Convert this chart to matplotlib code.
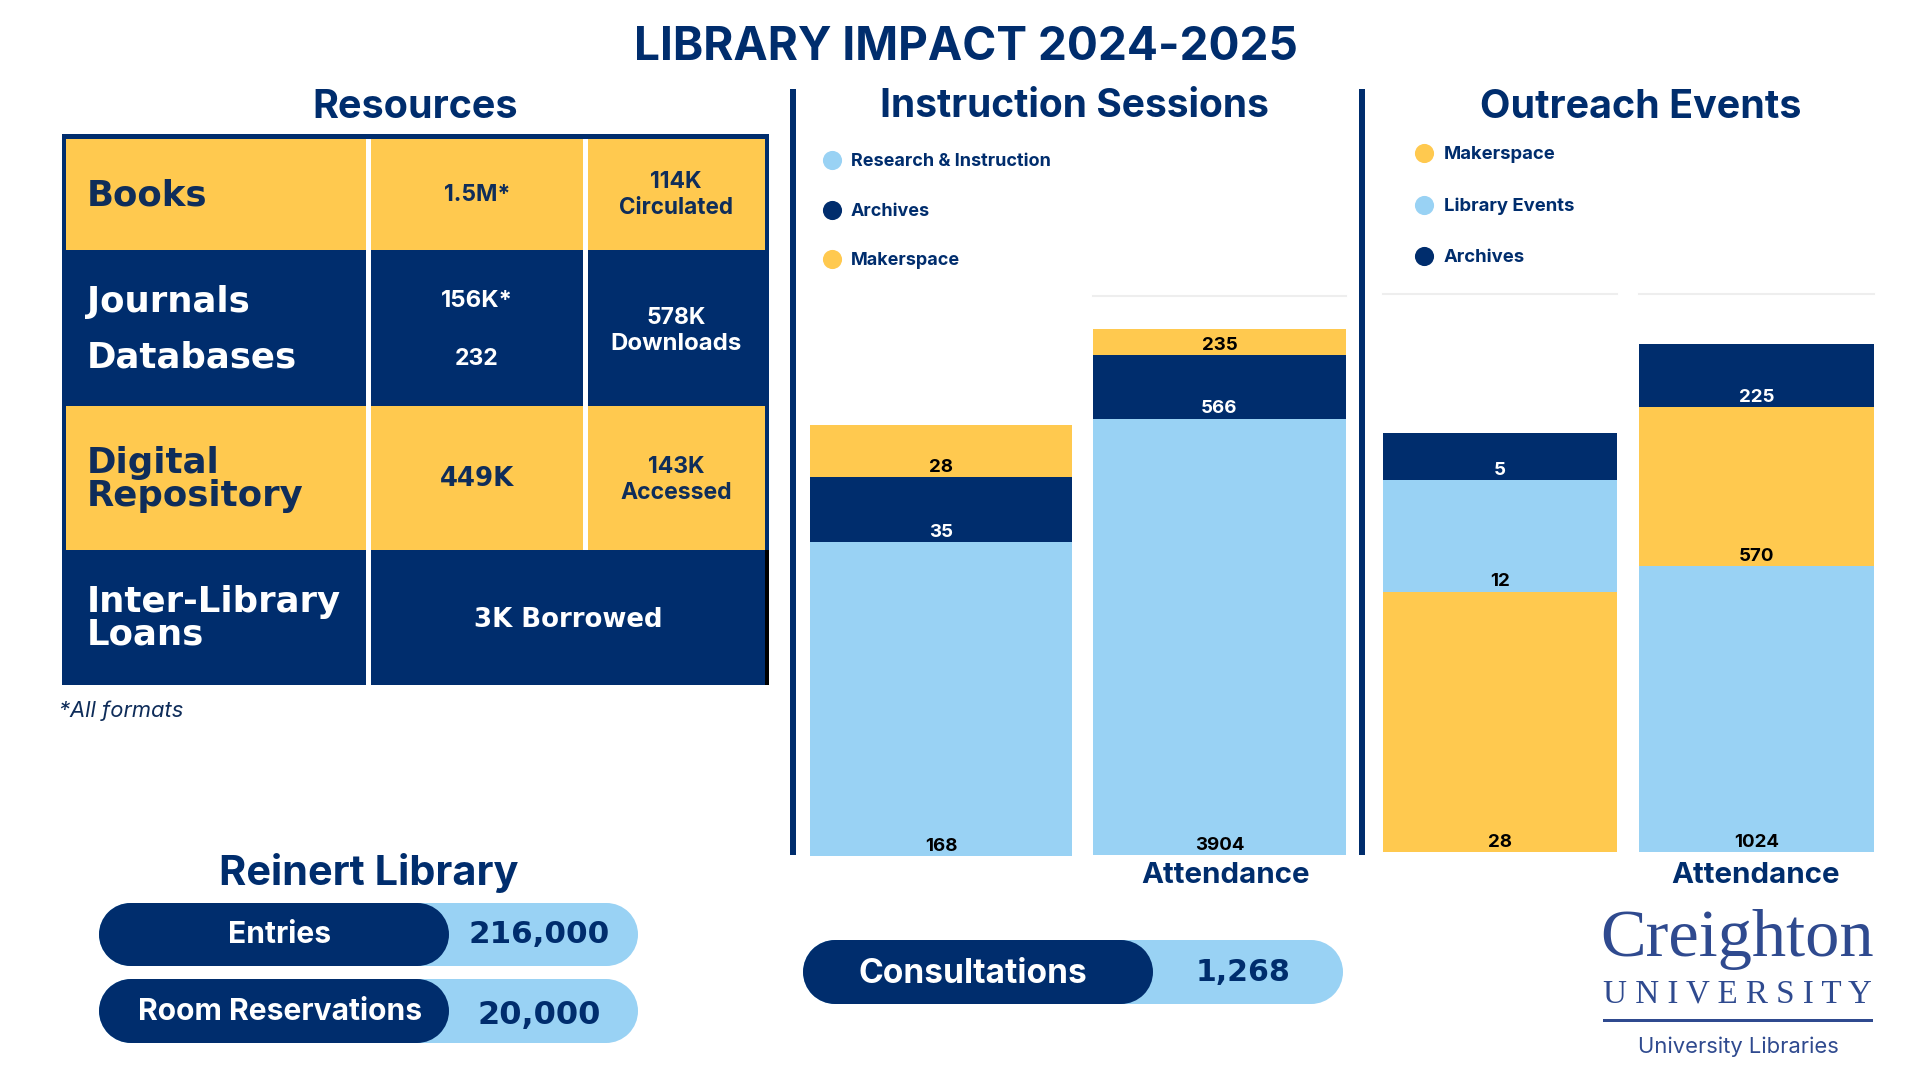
import matplotlib
matplotlib.use('Agg')
import matplotlib.pyplot as plt
from matplotlib.patches import Rectangle, Circle

# --- Data ---
session_labels = ['Research & Instruction', 'Archives', 'Makerspace']
sessions_count = [168, 35, 28]
sessions_attendance = [3904, 566, 235]

outreach_labels = ['Makerspace', 'Library Events', 'Archives']
outreach_count = [28, 12, 5]
outreach_attendance = [1024, 570, 225]

pill_labels = ['Entries', 'Room Reservations', 'Consultations']
pill_values = ['216,000', '20,000', '1,268']

NAVY = '#002D6D'
GOLD = '#FFC94F'
BLUE = '#99D2F4'
INK = '#0F2D5A'
LOGO = '#2F4A8F'
W, H = 1920, 1080

plt.rcParams['font.family'] = ['Inter', 'Lato', 'DejaVu Sans']

fig = plt.figure(figsize=(19.2, 10.8), dpi=100, facecolor='white')
bg = fig.add_axes([0, 0, 1, 1])
bg.set_xlim(0, W)
bg.set_ylim(H, 0)
bg.axis('off')


def label(x, y, s, px, color=NAVY, ha='center', weight='bold', **kw):
    # px is the font size in image pixels
    bg.text(x, y + px * 0.07, s, fontsize=px * 0.72, color=color, ha=ha, va='center',
            fontweight=weight, **kw)


def box(x0, y0, x1, y1, color):
    bg.add_patch(Rectangle((x0, y0), x1 - x0, y1 - y0, facecolor=color,
                           edgecolor='none'))


def stacked(x0, x1, y_top, y_bottom, values, colors, ymax, grid=True):
    ax = fig.add_axes([x0 / W, 1 - y_bottom / H, (x1 - x0) / W,
                       (y_bottom - y_top) / H])
    base = 0
    for v, c in zip(values, colors):
        ax.bar(0, v, bottom=base, width=1, color=c, linewidth=0)
        ax.annotate(str(v), (0, base), xytext=(0, 1), textcoords='offset points',
                    ha='center', va='bottom', fontsize=13.5, fontweight='bold',
                    color='white' if c == NAVY else 'black')
        base += v
    ax.set_xlim(-0.5, 0.5)
    ax.set_ylim(0, ymax)
    ax.axis('off')
    if grid:
        ax.axhline(ymax, color='#EEEEEE', linewidth=1.5, clip_on=False)
    return ax


def pill(x0, x_mid, x1, y0, y1):
    r = (y1 - y0) / 2
    for right, color in [(x1, BLUE), (x_mid, NAVY)]:
        box(x0 + r, y0, right - r, y1, color)
        bg.add_patch(Circle((x0 + r, y0 + r), r, facecolor=color, edgecolor='none'))
        bg.add_patch(Circle((right - r, y0 + r), r, facecolor=color, edgecolor='none'))


# --- Titles ---
label(966, 45, 'LIBRARY IMPACT 2024-2025', 46)
label(415, 105, 'Resources', 39.5)
label(1074, 104, 'Instruction Sessions', 39)
label(1641, 105, 'Outreach Events', 39.5)

# --- Resources table ---
box(62, 134, 769, 685, NAVY)
box(66, 139, 765, 250, GOLD)
box(66, 406, 765, 550, GOLD)
box(765, 550, 769, 685, 'black')
box(366, 139, 371, 685, 'white')
box(583, 139, 588, 550, 'white')

track = ['DejaVu Sans']
for y, s, c in [(193, 'Books', INK), (300, 'Journals', 'white'), (355, 'Databases', 'white'),
                (461, 'Digital', INK), (494, 'Repository', INK),
                (600, 'Inter-Library', 'white'), (632, 'Loans', 'white')]:
    label(87, y, s, 35.5, color=c, ha='left', family=track)

label(477, 193, '1.5M*', 23, color=INK)
label(676, 180, '114K', 23, color=INK)
label(676, 206, 'Circulated', 22.5, color=INK)
label(477, 299, '156K*', 24, color='white')
label(477, 357, '232', 23, color='white')
label(676, 316, '578K', 23, color='white')
label(676, 342, 'Downloads', 24, color='white')
label(477, 477, '449K', 26, color=INK, family=track)
label(676, 465, '143K', 23, color=INK)
label(676, 491, 'Accessed', 23, color=INK)
label(568, 618, '3K Borrowed', 26, color='white', family=track)
label(59, 709, '*All formats', 22, ha='left', weight='normal', style='italic', color=INK)

# --- Stacked bars ---
stacked(810, 1072, 296, 856, sessions_count, [BLUE, NAVY, GOLD], 300, grid=False)
stacked(1093, 1346, 296, 855, sessions_attendance, [BLUE, NAVY, GOLD], 5000)
stacked(1383, 1617, 294, 852, outreach_count, [GOLD, BLUE, NAVY], 60)
stacked(1639, 1874, 294, 852, outreach_attendance, [BLUE, GOLD, NAVY], 2000)

box(790, 89, 796, 855, NAVY)
box(1359, 89, 1365, 855, NAVY)

# --- Legends ---
for y, s, c in zip([160, 210, 259], session_labels, [BLUE, NAVY, GOLD]):
    bg.scatter(832, y, s=190, color=c, linewidth=0)
    label(851, y, s, 18, ha='left')
for y, s, c in zip([153, 205, 256], outreach_labels, [GOLD, BLUE, NAVY]):
    bg.scatter(1424, y, s=190, color=c, linewidth=0)
    label(1444, y, s, 18.5, ha='left')

label(1226, 873, 'Attendance', 29.5)
label(1756, 873, 'Attendance', 29.5)

# --- Pills ---
label(369, 870, 'Reinert Library', 41.5)
pill(99, 449, 638, 903, 966)
pill(99, 449, 638, 979, 1043)
pill(803, 1153, 1343, 940, 1004)
label(280, 933, pill_labels[0], 30, color='white')
label(280, 1010, pill_labels[1], 30, color='white')
label(973, 972, pill_labels[2], 33.5, color='white')
label(539, 932, pill_values[0], 31, family=track)
label(539, 1013, pill_values[1], 32, family=track)
label(1243, 970, pill_values[2], 30, family=track)

# --- Logo ---
label(1737, 935, 'Creighton', 68.5, color=LOGO, family=['Liberation Serif'], weight='normal')
label(1737, 992, 'U N I V E R S I T Y', 33, color=LOGO, family=['Liberation Serif'], weight='normal')
box(1603, 1019, 1873, 1022, LOGO)
label(1738, 1045, 'University Libraries', 22, color=LOGO, weight='normal')

fig.savefig('out.png', dpi=100, facecolor='white')
